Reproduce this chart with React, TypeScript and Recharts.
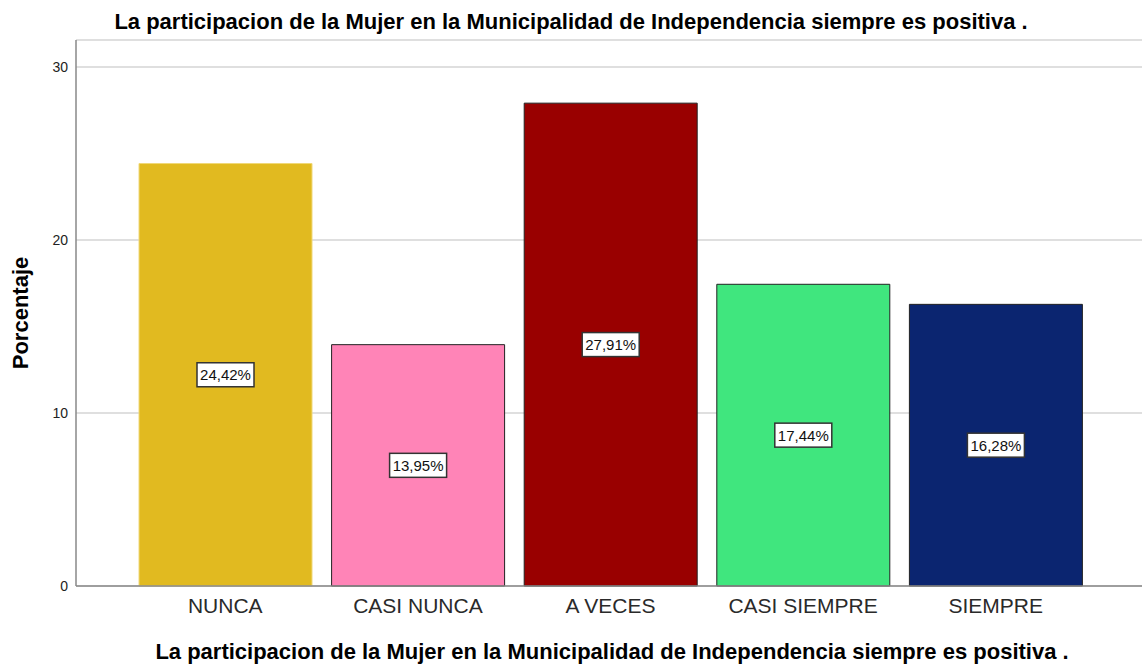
import { BarChart, Bar, XAxis, YAxis, CartesianGrid, Cell, LabelList, Label } from "recharts";

const categories = ["NUNCA", "CASI NUNCA", "A VECES", "CASI SIEMPRE", "SIEMPRE"];
const percentages = [24.42, 13.95, 27.91, 17.44, 16.28];
const barColors = ["#E1BA20", "#FF84B7", "#990000", "#40E67E", "#0B2570"];
const barStrokes = ["#F0D878", "#222222", "#222222", "#222222", "#222222"];
const yTicks = [0, 10, 20, 30];

const TITLE = "La participacion de la Mujer en la Municipalidad de Independencia siempre es positiva .";
const FONT = "'Liberation Sans', Arial, sans-serif";

const data = categories.map((name, i) => ({ name, value: percentages[i] }));

// caja blanca con borde oscuro en el centro de cada barra
const BoxLabel = (props: any) => {
  const { x, y, width, height, value } = props;
  const cx = x + width / 2;
  const cy = y + height / 2;
  const text = `${Number(value).toFixed(2).replace(".", ",")}%`;
  const w = 57;
  const h = 24;
  return (
    <g>
      <rect x={cx - w / 2} y={cy - h / 2} width={w} height={h} fill="#fff" stroke="#333" strokeWidth={1.5} />
      <text x={cx} y={cy + 5.5} textAnchor="middle" fontSize={15} fontFamily={FONT} fill="#111">
        {text}
      </text>
    </g>
  );
};

export default function App() {
  return (
    <div style={{ position: "absolute", left: 0, top: 0, width: 1142, height: 666, background: "#fff" }}>
      <div
        style={{
          position: "absolute",
          top: 9,
          left: 0,
          width: 1142,
          textAlign: "center",
          fontFamily: FONT,
          fontWeight: "bold",
          fontSize: 22,
          lineHeight: "26px",
          color: "#000",
        }}
      >
        {TITLE}
      </div>
      <BarChart
        width={1142}
        height={666}
        data={data}
        margin={{ top: 40, right: 0, left: 0, bottom: 0 }}
        barCategoryGap={0}
      >
        <CartesianGrid vertical={false} stroke="#d4d4d4" strokeWidth={1.5} />
        <XAxis
          dataKey="name"
          height={80}
          padding={{ left: 53, right: 50 }}
          tickLine={false}
          axisLine={{ stroke: "#888", strokeWidth: 1.5 }}
          tick={{ fontSize: 21, fill: "#2a2a2a", fontFamily: FONT }}
          tickMargin={6}
        >
          <Label
            value={TITLE}
            position="insideBottom"
            offset={7}
            dx={3}
            style={{ fontSize: 22, fontWeight: "bold", fill: "#000", fontFamily: FONT }}
          />
        </XAxis>
        <YAxis
          width={76}
          domain={[0, 31.56]}
          ticks={yTicks}
          tickLine={false}
          tickSize={6}
          axisLine={{ stroke: "#888", strokeWidth: 1.5 }}
          tick={{ fontSize: 14, fill: "#222", fontFamily: FONT }}
        >
          <Label
            value="Porcentaje"
            angle={-90}
            position="insideLeft"
            offset={20}
            style={{ fontSize: 22, fontWeight: "bold", fill: "#000", fontFamily: FONT, textAnchor: "middle" }}
          />
        </YAxis>
        <Bar dataKey="value" barSize={173} isAnimationActive={false}>
          {data.map((d, i) => (
            <Cell key={d.name} fill={barColors[i]} stroke={barStrokes[i]} strokeWidth={1} />
          ))}
          <LabelList dataKey="value" content={BoxLabel} />
        </Bar>
      </BarChart>
    </div>
  );
}
